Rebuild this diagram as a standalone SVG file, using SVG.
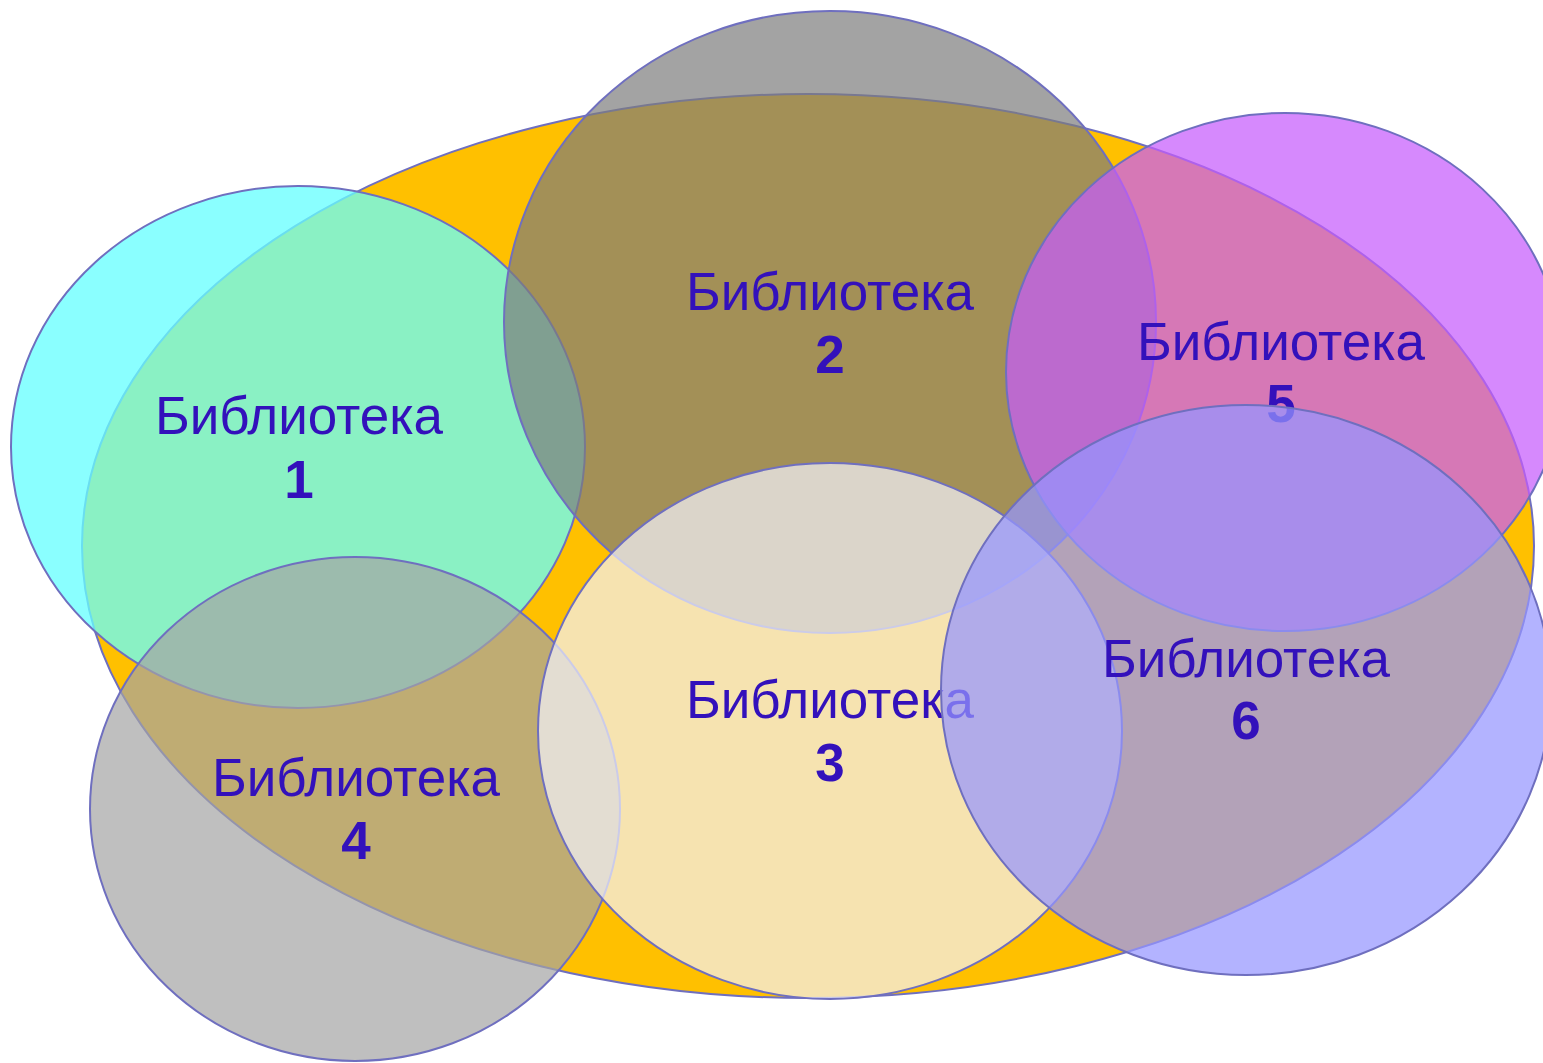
<svg xmlns="http://www.w3.org/2000/svg" width="1543" height="1063" viewBox="0 0 1543 1063">
<style>
.e{stroke:#6F6FBF;stroke-width:2}
.t{font-family:"Liberation Sans",Arial,sans-serif;font-size:53px;fill:#3311BB;text-anchor:middle}
.n{font-weight:bold}
</style>
<rect width="1543" height="1063" fill="#FFFFFF"/>
<g id="main"><ellipse class="e" cx="808" cy="546" rx="726" ry="452" fill="#FFC000"/></g>
<g id="lib1">
<ellipse class="e" cx="298" cy="447" rx="287" ry="261" fill="#67FFFF" fill-opacity="0.77"/>
<text class="t" x="299" y="434">Библиотека</text>
<text class="t n" x="299" y="498">1</text>
</g>
<g id="lib2">
<ellipse class="e" cx="830" cy="322" rx="326" ry="311" fill="#7C7C7C" fill-opacity="0.7"/>
<text class="t" x="830" y="310">Библиотека</text>
<text class="t n" x="830" y="373">2</text>
</g>
<g id="lib4">
<ellipse class="e" cx="355" cy="809" rx="265" ry="252" fill="#A4A4A4" fill-opacity="0.7"/>
<text class="t" x="356" y="796">Библиотека</text>
<text class="t n" x="356" y="859">4</text>
</g>
<g id="lib3">
<ellipse class="e" cx="830" cy="731" rx="292" ry="268" fill="#F2F2FB" fill-opacity="0.7"/>
<text class="t" x="830" y="718">Библиотека</text>
<text class="t n" x="830" y="781">3</text>
</g>
<g id="lib5">
<ellipse class="e" cx="1285" cy="372" rx="279" ry="259" fill="#C65CFC" fill-opacity="0.72"/>
<text class="t" x="1281" y="360">Библиотека</text>
<text class="t n" x="1281" y="422">5</text>
</g>
<g id="lib6">
<ellipse class="e" cx="1246" cy="690" rx="305" ry="285" fill="#9595FF" fill-opacity="0.72"/>
<text class="t" x="1246" y="677">Библиотека</text>
<text class="t n" x="1246" y="739">6</text>
</g>
<g id="connectors"/>
</svg>
